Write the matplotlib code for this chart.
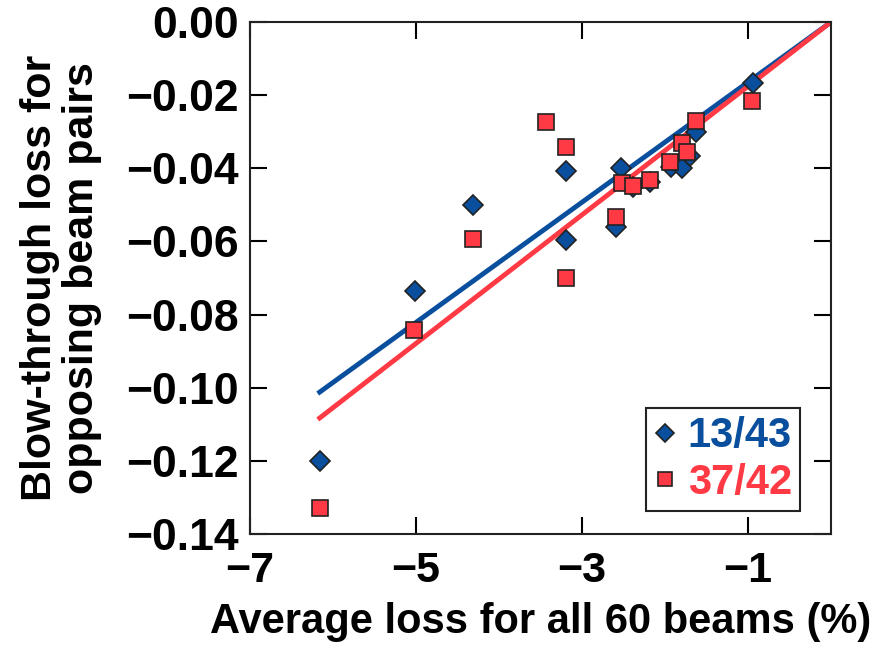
import numpy as np
import matplotlib.pyplot as plt

# blue diamonds (13/43)
x_blue = [-6.16, -5.01, -4.31, -3.19, -3.19, -2.59, -2.53, -2.39, -2.18, -1.93, -1.80, -1.70, -1.63, -0.94]
y_blue = [-0.120, -0.0736, -0.050, -0.0407, -0.0596, -0.056, -0.040, -0.0451, -0.0437, -0.0397, -0.040, -0.0366, -0.030, -0.0167]

# red squares (37/42)
x_red = [-6.16, -5.02, -4.31, -3.43, -3.19, -3.19, -2.59, -2.52, -2.39, -2.18, -1.94, -1.80, -1.73, -1.63, -0.95]
y_red = [-0.133, -0.0842, -0.0593, -0.0273, -0.0342, -0.070, -0.0533, -0.044, -0.0448, -0.0432, -0.0383, -0.0331, -0.0356, -0.0271, -0.0216]

# fit slopes (lines through origin)
slope_blue = 0.01643
slope_red = 0.01758
fit_range = [-6.16, 0.0]

labels = ['13/43', '37/42']
blue = '#0a4f9e'
red = '#ff3a44'

plt.rcParams['font.family'] = ['Liberation Sans', 'DejaVu Sans']
plt.rcParams['font.weight'] = 'bold'
plt.rcParams['font.size'] = 30

def fmt(v, p):
    s = '%.2f' % abs(v)
    return s if abs(v) < 1e-9 else '\u2212' + s

fig = plt.figure(figsize=(8.77, 6.47), dpi=100)
ax = fig.add_axes([0.285, 0.1747, 0.6626, 0.7913])

xf = np.array(fit_range)
ax.plot(xf, slope_blue * xf, color=blue, lw=3.5, zorder=2)
ax.plot(xf, slope_red * xf, color=red, lw=3.5, zorder=2)

ax.plot(x_blue, y_blue, 'D', ms=10.5, mfc=blue, mec='#222222', mew=1.2, ls='none', zorder=3, label=labels[0])
ax.plot(x_red, y_red, 's', ms=11, mfc=red, mec='#222222', mew=1.2, ls='none', zorder=4, label=labels[1])

ax.set_xlim(-7, 0)
ax.set_ylim(-0.14, 0)
ax.set_xticks([-7, -5, -3, -1])
ax.set_yticks(np.arange(-0.14, 0.001, 0.02))
ax.yaxis.set_major_formatter(plt.FuncFormatter(fmt))
ax.tick_params(direction='in', length=12, width=1.5, top=True, right=True, pad=8)
ax.tick_params(axis='y', labelsize=32)
ax.tick_params(axis='x', labelsize=31, pad=12)
for s in ax.spines.values():
    s.set_linewidth(1.5)
    s.set_color('#222222')

ax.set_xlabel('Average loss for all 60 beams (%)', fontweight='bold', fontsize=30, labelpad=8)
ax.set_ylabel('Blow-through loss for\nopposing beam pairs', fontweight='bold', fontsize=31, linespacing=1.05)
ax.yaxis.set_label_coords(-0.255, 0.5)

leg = ax.legend(loc='lower right', bbox_to_anchor=(0.9466, 0.045), borderaxespad=0,
                handlelength=0.5, handletextpad=0.3, labelspacing=0.15, borderpad=0.2,
                fancybox=False, framealpha=1, edgecolor='#222222', markerscale=0.9, fontsize=30)
leg.get_frame().set_linewidth(1.5)
for t, c in zip(leg.get_texts(), [blue, red]):
    t.set_color(c)

fig.savefig('out.png', dpi=100)
